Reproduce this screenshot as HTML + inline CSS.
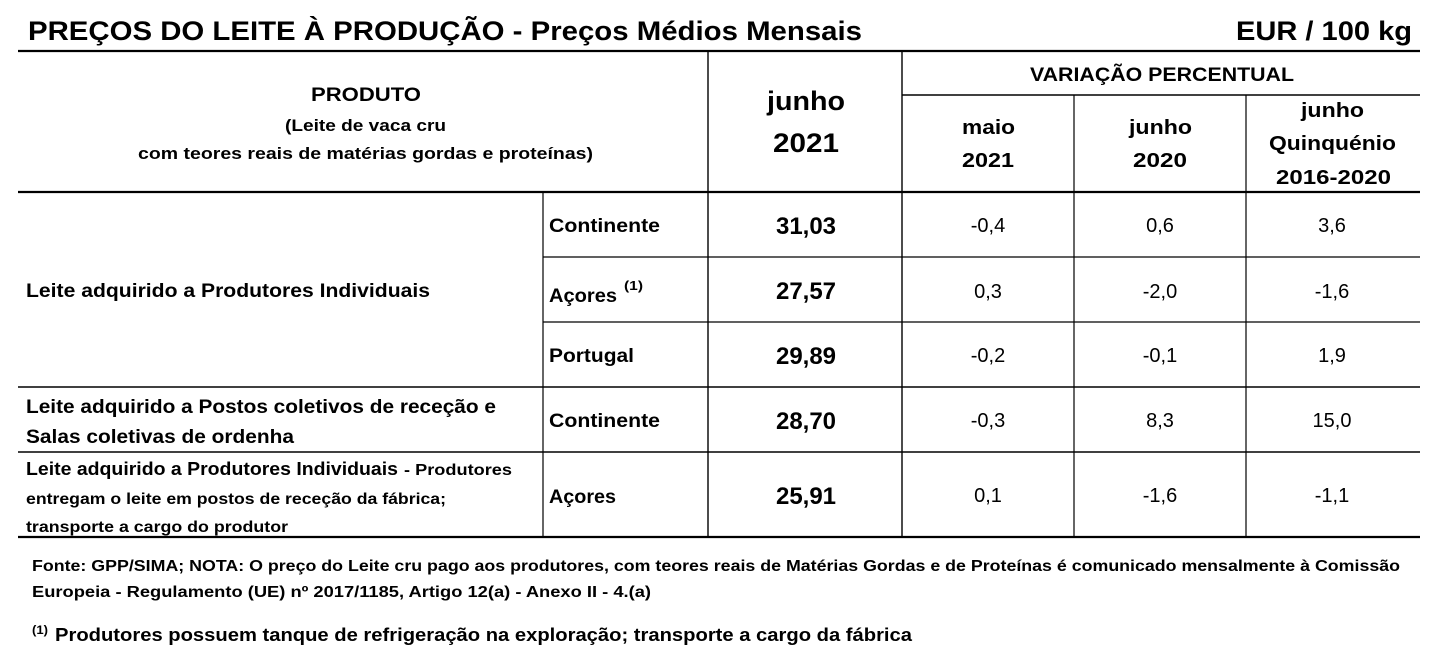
<!DOCTYPE html>
<html><head><meta charset="utf-8"><style>
html,body{margin:0;padding:0;background:#fff;width:1440px;height:649px;overflow:hidden}
text{font-family:"Liberation Sans",Arial,sans-serif;fill:#000}
.b{font-weight:bold}
</style></head><body>
<svg width="1440" height="649" viewBox="0 0 1440 649" xmlns="http://www.w3.org/2000/svg">
<g stroke="#000">
<line x1="18" y1="51" x2="1420" y2="51" stroke-width="2.2"/>
<line x1="18" y1="192" x2="1420" y2="192" stroke-width="2.2"/>
<line x1="902" y1="95" x2="1420" y2="95" stroke-width="1.6"/>
<line x1="708" y1="51" x2="708" y2="537" stroke-width="1.4"/>
<line x1="902" y1="51" x2="902" y2="537" stroke-width="1.4"/>
<line x1="1074" y1="95" x2="1074" y2="537" stroke-width="1.2"/>
<line x1="1246" y1="95" x2="1246" y2="537" stroke-width="1.2"/>
<line x1="543" y1="192" x2="543" y2="537" stroke-width="1.2"/>
<line x1="543" y1="257" x2="1420" y2="257" stroke-width="1.2"/>
<line x1="543" y1="322" x2="1420" y2="322" stroke-width="1.2"/>
<line x1="18" y1="387" x2="1420" y2="387" stroke-width="1.5"/>
<line x1="18" y1="452" x2="1420" y2="452" stroke-width="1.5"/>
<line x1="18" y1="537" x2="1420" y2="537" stroke-width="2.2"/>
</g>
<text class="b" x="28" y="40" font-size="27" textLength="834" lengthAdjust="spacingAndGlyphs">PREÇOS DO LEITE À PRODUÇÃO - Preços Médios Mensais</text>
<text class="b" x="1236" y="40" font-size="27" textLength="176" lengthAdjust="spacingAndGlyphs">EUR / 100 kg</text>

<g class="b">
<text x="311" y="101" font-size="19" textLength="110" lengthAdjust="spacingAndGlyphs">PRODUTO</text>
<text x="285" y="131" font-size="17" textLength="161" lengthAdjust="spacingAndGlyphs">(Leite de vaca cru</text>
<text x="138" y="159" font-size="17" textLength="455" lengthAdjust="spacingAndGlyphs">com teores reais de matérias gordas e proteínas)</text>
<text x="767" y="110" font-size="27" textLength="78" lengthAdjust="spacingAndGlyphs">junho</text>
<text x="773" y="152" font-size="27" textLength="66" lengthAdjust="spacingAndGlyphs">2021</text>
<text x="1030" y="81" font-size="19" textLength="264" lengthAdjust="spacingAndGlyphs">VARIAÇÃO PERCENTUAL</text>
<text x="962" y="134" font-size="20" textLength="53" lengthAdjust="spacingAndGlyphs">maio</text>
<text x="962" y="167" font-size="20" textLength="52" lengthAdjust="spacingAndGlyphs">2021</text>
<text x="1129" y="134" font-size="20" textLength="63" lengthAdjust="spacingAndGlyphs">junho</text>
<text x="1133" y="167" font-size="20" textLength="54" lengthAdjust="spacingAndGlyphs">2020</text>
<text x="1301" y="117" font-size="20" textLength="63" lengthAdjust="spacingAndGlyphs">junho</text>
<text x="1269" y="150" font-size="20" textLength="127" lengthAdjust="spacingAndGlyphs">Quinquénio</text>
<text x="1276" y="184" font-size="20" textLength="115" lengthAdjust="spacingAndGlyphs">2016-2020</text>
</g>

<g class="b">
<text x="26" y="297" font-size="19" textLength="404" lengthAdjust="spacingAndGlyphs">Leite adquirido a Produtores Individuais</text>
<text x="26" y="413" font-size="19" textLength="470" lengthAdjust="spacingAndGlyphs">Leite adquirido a Postos coletivos de receção e</text>
<text x="26" y="443" font-size="19" textLength="268" lengthAdjust="spacingAndGlyphs">Salas coletivas de ordenha</text>
<text x="26" y="475" font-size="18" textLength="372" lengthAdjust="spacingAndGlyphs">Leite adquirido a Produtores Individuais</text>
<text x="404" y="475" font-size="16" textLength="108" lengthAdjust="spacingAndGlyphs">- Produtores</text>
<text x="26" y="504" font-size="16" textLength="420" lengthAdjust="spacingAndGlyphs">entregam o leite em postos de receção da fábrica;</text>
<text x="26" y="532" font-size="16" textLength="262" lengthAdjust="spacingAndGlyphs">transporte a cargo do produtor</text>
<text x="549" y="232" font-size="19" textLength="111" lengthAdjust="spacingAndGlyphs">Continente</text>
<text x="549" y="302" font-size="19" textLength="68" lengthAdjust="spacingAndGlyphs">Açores</text>
<text x="624" y="290" font-size="13" textLength="19" lengthAdjust="spacingAndGlyphs">(1)</text>
<text x="549" y="362" font-size="19" textLength="85" lengthAdjust="spacingAndGlyphs">Portugal</text>
<text x="549" y="427" font-size="19" textLength="111" lengthAdjust="spacingAndGlyphs">Continente</text>
<text x="549" y="503" font-size="19" textLength="67" lengthAdjust="spacingAndGlyphs">Açores</text>
</g>

<g>
<g class="b" font-size="24" text-anchor="middle">
<text x="806" y="234">31,03</text>
<text x="806" y="299">27,57</text>
<text x="806" y="364">29,89</text>
<text x="806" y="429">28,70</text>
<text x="806" y="504">25,91</text>
</g>
<g font-size="20" text-anchor="middle">
<text x="988" y="232">-0,4</text><text x="1160" y="232">0,6</text><text x="1332" y="232">3,6</text>
<text x="988" y="298">0,3</text><text x="1160" y="298">-2,0</text><text x="1332" y="298">-1,6</text>
<text x="988" y="362">-0,2</text><text x="1160" y="362">-0,1</text><text x="1332" y="362">1,9</text>
<text x="988" y="427">-0,3</text><text x="1160" y="427">8,3</text><text x="1332" y="427">15,0</text>
<text x="988" y="502">0,1</text><text x="1160" y="502">-1,6</text><text x="1332" y="502">-1,1</text>
</g>
</g>

<g class="b">
<text x="32" y="571" font-size="16" textLength="1368" lengthAdjust="spacingAndGlyphs">Fonte: GPP/SIMA; NOTA: O preço do Leite cru pago aos produtores, com teores reais de Matérias Gordas e de Proteínas é comunicado mensalmente à  Comissão</text>
<text x="32" y="597" font-size="16" textLength="619" lengthAdjust="spacingAndGlyphs">Europeia - Regulamento (UE) nº 2017/1185, Artigo 12(a) - Anexo II - 4.(a)</text>
<text x="32" y="634" font-size="12" textLength="16" lengthAdjust="spacingAndGlyphs">(1)</text>
<text x="55" y="641" font-size="18" textLength="857" lengthAdjust="spacingAndGlyphs">Produtores possuem tanque de refrigeração na exploração; transporte a cargo da fábrica</text>
</g>
</svg>
</body></html>
